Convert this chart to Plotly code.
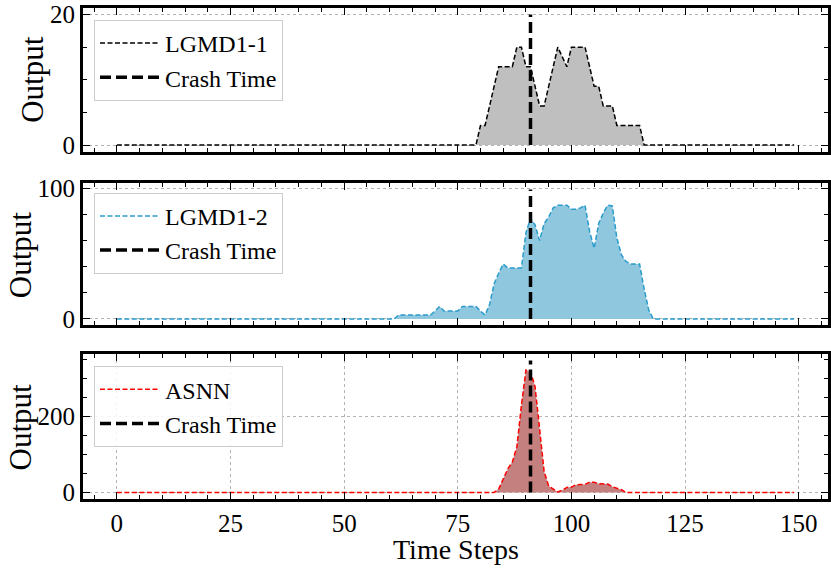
import plotly.graph_objects as go

# ---------------- data ----------------
time_steps = list(range(150))
crash_time = 91

# LGMD1-1 (non-zero from t=79 to t=116)
lgmd11_start = 79
lgmd11_vals = [0, 3, 3, 6, 9, 12, 12, 12, 12, 15, 15, 12, 12, 9, 6, 6, 9, 12, 15, 13.5,
               12, 15, 15, 15, 15, 12, 9, 9, 6, 6, 6, 3, 3, 3, 3, 3, 3, 0]
# LGMD1-2 (non-zero from t=61 to t=118)
lgmd12_start = 61
lgmd12_vals = [0, 3, 3, 3, 3, 3, 3, 3, 3, 6, 9.5, 6, 6, 6, 6, 9.5, 9.5, 9.5, 9.5, 6,
               3, 11, 27, 35, 42, 39, 39, 39, 39, 66, 77, 72, 60, 73, 78, 85, 87, 87, 87, 84,
               84, 85, 87, 67, 54, 73, 81, 87, 86.5, 62, 49, 44, 42, 42, 42, 23, 7, 0]
# ASNN (non-zero from t=83 to t=112)
asnn_start = 83
asnn_vals = [0, 9, 36, 62, 80, 120, 230, 323, 319, 279, 168, 55, 17, 8, 1, 6, 13, 14, 20, 21,
             21, 27, 27, 23, 23, 22, 15, 12, 7, 0]

crash_tops = [20, 99, 348]
series_names = ["LGMD1-1", "LGMD1-2", "ASNN"]
y_tickvals = [[0, 20], [0, 100], [0, 200]]
y_minor = [5, 20, 50]
x_tickvals = [0, 25, 50, 75, 100, 125, 150]
y_title = "Output"
x_title = "Time Steps"


def full_series(start, vals):
    out = [0] * len(time_steps)
    for i, v in enumerate(vals):
        out[start + i] = v
    return out


series = [full_series(lgmd11_start, lgmd11_vals),
          full_series(lgmd12_start, lgmd12_vals),
          full_series(asnn_start, asnn_vals)]

# ---------------- style ----------------
line_colors = ["#000000", "#2a9bcb", "#ff0000"]
fill_colors = ["#bfbfbf", "#8fc8de", "#c47f7f"]
FONT = "Liberation Serif"

W, H = 831, 569
LEFT, RIGHT = 83, 828
panel_px = [(8.3, 151.7), (183.3, 325.7), (354.3, 499.3)]
ML = LEFT
MR = W - RIGHT
MT = 8
MB = H - 499.5
ph = H - MT - MB


def py(px):
    return 1 - (px - MT) / ph


def pxx(px):
    return (px - LEFT) / (RIGHT - LEFT)


domains = [[max(0.0, py(b)), min(1.0, py(t))] for (t, b) in panel_px]
domains[2][0] = 0.0
domains[0][1] = 1.0
legend_tops = [20, 193, 366.5]
legend_left = 94
ytitle_x_px = [33, 20, 20]
xtitle_y_px = 550

fig = go.Figure()
for i in range(3):
    xa = "x" if i == 0 else f"x{i+1}"
    ya = "y" if i == 0 else f"y{i+1}"
    lg = "legend" if i == 0 else f"legend{i+1}"
    fig.add_trace(go.Scatter(
        x=time_steps, y=series[i], mode="lines", name=series_names[i],
        line=dict(color=line_colors[i], width=1.5, dash="5px,2.5px"),
        fill="tozeroy", fillcolor=fill_colors[i], showlegend=False,
        xaxis=xa, yaxis=ya))
    # legend entry (line only, like the reference)
    fig.add_trace(go.Scatter(
        x=[None], y=[None], mode="lines", name=series_names[i],
        line=dict(color=line_colors[i], width=1.5, dash="5px,2.5px"),
        xaxis=xa, yaxis=ya, legend=lg))
    fig.add_trace(go.Scatter(
        x=[crash_time, crash_time], y=[0, crash_tops[i]], mode="lines", name="Crash Time",
        line=dict(color="black", width=3.5, dash="11px,5px"),
        xaxis=xa, yaxis=ya, legend=lg))

layout = dict(
    width=W, height=H,
    margin=dict(l=ML, r=MR, t=MT, b=MB, pad=0),
    paper_bgcolor="white", plot_bgcolor="white",
    font=dict(family=FONT, color="black", size=25),
    showlegend=True,
)

axis_common = dict(
    showline=True, linewidth=3, linecolor="black", mirror="allticks",
    ticks="inside", ticklen=7, tickwidth=1.2, tickcolor="black",
    zeroline=False,
    gridcolor="#b3b3b3", griddash="dot", gridwidth=1,
    tickfont=dict(family=FONT, size=25, color="black"),
    ticklabeloverflow="allow",
)

annotations = []
for i in range(3):
    xkey = "xaxis" if i == 0 else f"xaxis{i+1}"
    ykey = "yaxis" if i == 0 else f"yaxis{i+1}"
    ya = "y" if i == 0 else f"y{i+1}"
    xa = "x" if i == 0 else f"x{i+1}"
    data_top = crash_tops[i]
    layout[xkey] = dict(
        axis_common, domain=[0, 1], anchor=ya,
        range=[-7.45, 156.45], tickvals=x_tickvals,
        showticklabels=(i == 2), showgrid=(i == 2), automargin=False,
        minor=dict(ticks="inside", ticklen=4, tickwidth=1, tickcolor="black", dtick=5, tick0=0,
                   showgrid=False),
    )
    if i > 0:
        layout[xkey]["matches"] = "x"
    layout[ykey] = dict(
        axis_common, domain=domains[i], anchor=xa,
        range=[-0.05 * data_top, 1.05 * data_top], tickvals=y_tickvals[i],
        showgrid=True, automargin=False,
        minor=dict(ticks="inside", ticklen=4, tickwidth=1, tickcolor="black",
                   dtick=y_minor[i], tick0=0, showgrid=False),
    )
    annotations.append(dict(
        text=y_title, xref="paper", yref="paper",
        x=pxx(ytitle_x_px[i]), y=(domains[i][0] + domains[i][1]) / 2,
        xanchor="center", yanchor="middle", textangle=-90, showarrow=False,
        font=dict(family=FONT, size=31, color="black")))
    lkey = "legend" if i == 0 else f"legend{i+1}"
    layout[lkey] = dict(
        x=pxx(legend_left), y=py(legend_tops[i]),
        xanchor="left", yanchor="top",
        bgcolor="rgba(255,255,255,0.85)", bordercolor="#cccccc", borderwidth=1,
        font=dict(family=FONT, size=24, color="black"),
        tracegroupgap=0, itemwidth=60,
    )

annotations.append(dict(
    text=x_title, xref="paper", yref="paper", x=0.5, y=py(xtitle_y_px),
    xanchor="center", yanchor="middle", showarrow=False,
    font=dict(family=FONT, size=28, color="black")))
layout["annotations"] = annotations
fig.update_layout(**layout)
# remove the browser's default 8px body margin so the figure sits at the window corner
fig.write_html("out.html", config={"displayModeBar": False},
               post_script="document.body.style.margin='0';")
